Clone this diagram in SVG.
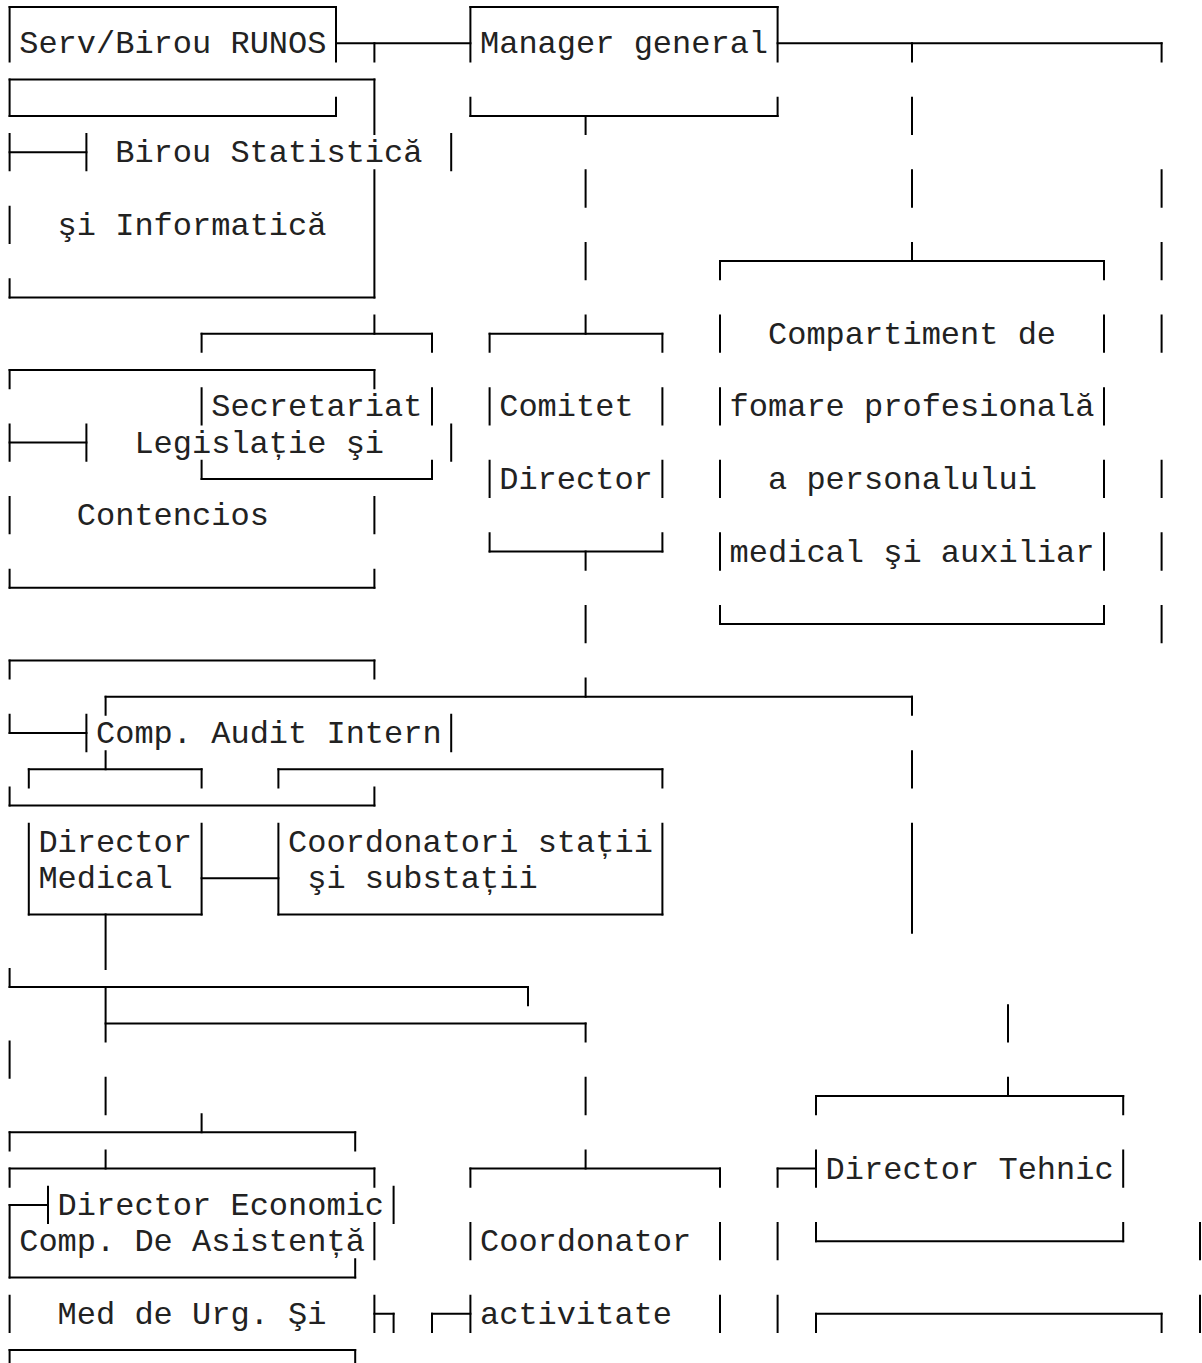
<svg xmlns="http://www.w3.org/2000/svg" width="1202" height="1363" viewBox="0 0 1202 1363">
<style>
.ln{fill:none;stroke:#000;stroke-width:2;stroke-linecap:square}
text{font-family:"Liberation Mono","DejaVu Sans Mono",monospace;font-size:32px;fill:#222;white-space:pre}
</style>
<rect width="1202" height="1363" fill="#fff"/>
<g id="connectors" class="ln">
<path d="M9.6 7H336M470.4 7H777.6M336 43.3H470.4M777.6 43.3H1161.6M9.6 79.6H374.4M9.6 115.9H336M470.4 115.9H777.6M9.6 152.2H86.4M720 261.1H1104M9.6 297.4H374.4M201.6 333.7H432M489.6 333.7H662.4M9.6 370H374.4M9.6 442.6H86.4M201.6 478.9H432M489.6 551.5H662.4M9.6 587.8H374.4M720 624.1H1104M9.6 660.4H374.4M105.6 696.7H912M9.6 733H86.4M28.8 769.3H201.6M278.4 769.3H662.4M9.6 805.6H374.4M201.6 878.2H278.4M28.8 914.5H201.6M278.4 914.5H662.4M9.6 987.1H528M105.6 1023.4H585.6M816 1096H1123.2M9.6 1132.3H355.2M9.6 1168.6H374.4M470.4 1168.6H720M777.6 1168.6H816M9.6 1204.9H48M816 1241.2H1123.2M9.6 1277.5H355.2M374.4 1313.8H393.6M432 1313.8H470.4M816 1313.8H1161.6M9.6 1350.1H355.2"/>
<path d="M9.6 7V61.45M9.6 79.6V115.9M9.6 134.05V170.35M9.6 206.65V242.95M9.6 279.25V297.4M9.6 370V388.15M9.6 424.45V460.75M9.6 497.05V533.35M9.6 569.65V587.8M9.6 660.4V678.55M9.6 714.85V733M9.6 787.45V805.6M9.6 968.95V987.1M9.6 1041.55V1077.85M9.6 1132.3V1150.45M9.6 1168.6V1186.75M9.6 1204.9V1277.5M9.6 1295.65V1331.95M9.6 1350.1V1368"/>
<path d="M28.8 769.3V787.45M28.8 823.75V914.5M48 1186.75V1223.05M86.4 134.05V170.35M86.4 424.45V460.75M86.4 714.85V751.15"/>
<path d="M105.6 696.7V714.85M105.6 751.15V769.3M105.6 914.5V968.95M105.6 987.1V1041.55M105.6 1077.85V1114.15M105.6 1150.45V1168.6"/>
<path d="M201.6 333.7V351.85M201.6 388.15V424.45M201.6 460.75V478.9M201.6 769.3V787.45M201.6 823.75V914.5M201.6 1114.15V1132.3M278.4 769.3V787.45M278.4 823.75V914.5"/>
<path d="M336 7V61.45M336 97.75V115.9M355.2 1132.3V1150.45M355.2 1259.35V1277.5M355.2 1350.1V1368"/>
<path d="M374.4 43.3V61.45M374.4 79.6V134.05M374.4 170.35V297.4M374.4 315.55V333.7M374.4 370V388.15M374.4 497.05V533.35M374.4 569.65V587.8M374.4 660.4V678.55M374.4 787.45V805.6M374.4 1168.6V1186.75M374.4 1223.05V1259.35M374.4 1295.65V1331.95"/>
<path d="M393.6 1186.75V1223.05M393.6 1313.8V1331.95M432 333.7V351.85M432 388.15V424.45M432 460.75V478.9M432 1313.8V1331.95M451.2 134.05V170.35M451.2 424.45V460.75M451.2 714.85V751.15"/>
<path d="M470.4 7V61.45M470.4 97.75V115.9M470.4 1168.6V1186.75M470.4 1223.05V1259.35M470.4 1295.65V1331.95M489.6 333.7V351.85M489.6 388.15V424.45M489.6 460.75V497.05M489.6 533.35V551.5M528 987.1V1005.25"/>
<path d="M585.6 115.9V134.05M585.6 170.35V206.65M585.6 242.95V279.25M585.6 315.55V333.7M585.6 551.5V569.65M585.6 605.95V642.25M585.6 678.55V696.7M585.6 1023.4V1041.55M585.6 1077.85V1114.15M585.6 1150.45V1168.6"/>
<path d="M662.4 333.7V351.85M662.4 388.15V424.45M662.4 460.75V497.05M662.4 533.35V551.5M662.4 769.3V787.45M662.4 823.75V914.5"/>
<path d="M720 261.1V279.25M720 315.55V351.85M720 388.15V424.45M720 460.75V497.05M720 533.35V569.65M720 605.95V624.1M720 1168.6V1186.75M720 1223.05V1259.35M720 1295.65V1331.95"/>
<path d="M777.6 7V61.45M777.6 97.75V115.9M777.6 1168.6V1186.75M777.6 1223.05V1259.35M777.6 1295.65V1331.95M816 1096V1114.15M816 1150.45V1186.75M816 1223.05V1241.2M816 1313.8V1331.95"/>
<path d="M912 43.3V61.45M912 97.75V134.05M912 170.35V206.65M912 242.95V261.1M912 696.7V714.85M912 751.15V787.45M912 823.75V932.65M1008 1005.25V1041.55M1008 1077.85V1096"/>
<path d="M1104 261.1V279.25M1104 315.55V351.85M1104 388.15V424.45M1104 460.75V497.05M1104 533.35V569.65M1104 605.95V624.1M1123.2 1096V1114.15M1123.2 1150.45V1186.75M1123.2 1223.05V1241.2"/>
<path d="M1161.6 43.3V61.45M1161.6 170.35V206.65M1161.6 242.95V279.25M1161.6 315.55V351.85M1161.6 460.75V497.05M1161.6 533.35V569.65M1161.6 605.95V642.25M1161.6 1313.8V1331.95M1200 1223.05V1259.35M1200 1295.65V1331.95"/>
</g>
<g id="n-runos"><text x="19.2" y="53.3">Serv/Birou RUNOS</text></g>
<g id="n-manager"><text x="480" y="53.3">Manager general</text></g>
<g id="n-statistica"><text x="115.2" y="162.2">Birou Statistică</text><text x="57.6" y="234.8">şi Informatică</text></g>
<g id="n-compartiment"><text x="768" y="343.7">Compartiment de</text><text x="729.6" y="416.3">fomare profesională</text><text x="768" y="488.9">a personalului</text><text x="729.6" y="561.5">medical şi auxiliar</text></g>
<g id="n-secretariat"><text x="211.2" y="416.3">Secretariat</text></g>
<g id="n-comitet"><text x="499.2" y="416.3">Comitet</text><text x="499.2" y="488.9">Director</text></g>
<g id="n-legislatie"><text x="134.4" y="452.6">Legislație şi</text><text x="76.8" y="525.2">Contencios</text></g>
<g id="n-audit"><text x="96" y="743">Comp. Audit Intern</text></g>
<g id="n-dirmed"><text x="38.4" y="851.9">Director</text><text x="38.4" y="888.2">Medical</text></g>
<g id="n-coordstatii"><text x="288" y="851.9">Coordonatori stații</text><text x="307.2" y="888.2">şi substații</text></g>
<g id="n-dirtehnic"><text x="825.6" y="1178.6">Director Tehnic</text></g>
<g id="n-direco"><text x="57.6" y="1214.9">Director Economic</text></g>
<g id="n-asistenta"><text x="19.2" y="1251.2">Comp. De Asistență</text><text x="57.6" y="1323.8">Med de Urg. Şi</text></g>
<g id="n-coordact"><text x="480" y="1251.2">Coordonator</text><text x="480" y="1323.8">activitate</text></g>
</svg>
